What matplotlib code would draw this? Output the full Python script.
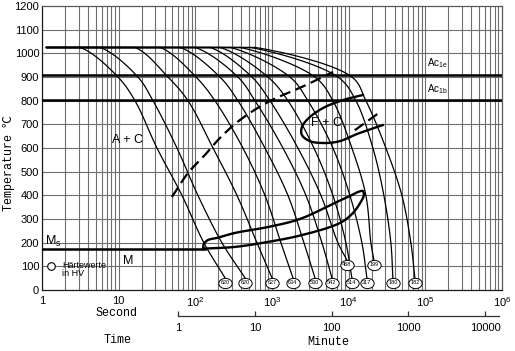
import numpy as np
import matplotlib
matplotlib.use('Agg')
import matplotlib.pyplot as plt
from matplotlib.path import Path
from matplotlib.markers import MarkerStyle
from matplotlib.transforms import Affine2D

plt.rcParams['font.family'] = ['Liberation Sans', 'DejaVu Sans']
plt.rcParams['mathtext.default'] = 'regular'
MONO = ['Liberation Mono', 'Noto Sans CJK SC']

# --- data (time in s, temperature in degC) ---
austenit_T = 1025
ac1e_T = 910
ac1b_T = 802
ms_T = 175
ms_t_end = 133

# time at which each cooling curve passes these temperatures
temp_levels = [1025, 900, 800, 600, 400, 200]
cool_times = [
    [3.13, 9.79, 16.3, 31.6, 66.9, 129],
    [5.70, 17.8, 28.0, 57.6, 108, 222],
    [16.3, 43.9, 80.1, 170, 349, 636],
    [34.6, 102, 180, 417, 808, 1306],
    [63.0, 209, 359, 808, 1612, 2606],
    [98.8, 359, 599, 1388, 2767, 4473],
    [155, 547, 939, 2176, 4341, 7233],
    [209, 884, 1612, 3518, 6223, 9195],
    [283, 1712, 2938, 6223, 10370, 14860],
    [381, 3625, 6223, 11010, 16760, 19480],
    [515, 7233, 12410, 20680, 28760, 35500],
    [599, 11010, 16760, 30550, 49400, 64700],
]
end_t = [243, 443, 997, 1873, 3625, 6039, 9474, 11010, 17280, 21310, 37700, 73000]
end_T = [52, 52, 52, 52, 52, 52, 127, 52, 52, 127, 52, 52]
hv_values = ['620', '620', '627', '634', '530', '542', '468', '514', '317', '199', '180', '182']

# bainite region (closed loop starting on Ms)
bain_t = [126, 129, 146, 191, 328, 884, 2312, 7020, 10370, 13180, 15310, 15780,
          14860, 11350, 7680, 2455, 884, 328, 133]
bain_T = [173, 194, 211, 220, 241, 266, 300, 372, 397, 414, 418, 401,
          380, 325, 283, 232, 203, 182, 175]

# carbide precipitation start (dashed)
carb_t = [49.5, 80.1, 133, 209, 381, 884, 2455, 6223]
carb_T = [393, 494, 570, 642, 718, 794, 858, 921]
carb2_t = [12000, 24000]
carb2_T = [675, 745]

# ferrite + carbide region
fc_t = [15310, 10370, 7680, 4897, 3119, 2455, 2455, 3119, 4897, 7680, 12790, 27920]
fc_T = [824, 811, 798, 773, 731, 689, 655, 629, 621, 629, 659, 697]

minute_ticks = [1, 10, 100, 1000, 10000]


# smoothing helper (centripetal Catmull-Rom in screen-like space)
KX, KY = 76.7, 0.2367

def _seg(P0, P1, P2, P3, n):
    def tj(ti, a, b):
        return ti + max(np.hypot(*(b - a)), 1e-6) ** 0.5
    t0 = 0.0
    t1 = tj(t0, P0, P1)
    t2 = tj(t1, P1, P2)
    t3 = tj(t2, P2, P3)
    t = np.linspace(t1, t2, n)[:, None]
    A1 = (t1 - t) / (t1 - t0) * P0 + (t - t0) / (t1 - t0) * P1
    A2 = (t2 - t) / (t2 - t1) * P1 + (t - t1) / (t2 - t1) * P2
    A3 = (t3 - t) / (t3 - t2) * P2 + (t - t2) / (t3 - t2) * P3
    B1 = (t2 - t) / (t2 - t0) * A1 + (t - t0) / (t2 - t0) * A2
    B2 = (t3 - t) / (t3 - t1) * A2 + (t - t1) / (t3 - t1) * A3
    return (t2 - t) / (t2 - t1) * B1 + (t - t1) / (t2 - t1) * B2


def smooth(tt, TT, lead=None, n=20):
    P = np.column_stack([np.log10(tt) * KX, np.asarray(TT, float) * KY])
    first = P[0] + lead if lead is not None else 2 * P[0] - P[1]
    Q = np.vstack([first, P, 2 * P[-1] - P[-2]])
    out = [_seg(Q[i], Q[i + 1], Q[i + 2], Q[i + 3], n) for i in range(len(Q) - 3)]
    out = np.vstack(out)
    return 10 ** (out[:, 0] / KX), out[:, 1] / KY


fig = plt.figure(figsize=(5.15, 3.51), dpi=100)
ax = fig.add_axes([42 / 515, 61 / 351, 460 / 515, 284 / 351])
ax.set_xscale('log')
ax.set_xlim(1, 1e6)
ax.set_ylim(0, 1200)

# grid
gcol = '#6e6e6e'
for k in range(6):
    for m in range(1, 10):
        ax.axvline(m * 10 ** k, color=gcol, lw=0.8, zorder=0)
for T in range(100, 1200, 100):
    ax.axhline(T, color=gcol, lw=0.8, zorder=0)

for s in ax.spines.values():
    s.set_color('0.35')
    s.set_linewidth(0.9)
ax.spines['left'].set_color('0.1')
ax.spines['bottom'].set_color('0.1')

ax.set_yticks(range(0, 1201, 100))
ax.set_xticks([1, 10, 100, 1e3, 1e4, 1e5, 1e6])
ax.set_xticklabels(['1', '10', '$10^2$', '$10^3$', '$10^4$', '$10^5$', '$10^6$'])
ax.xaxis.set_minor_locator(plt.NullLocator())
ax.tick_params(length=0, labelsize=8, colors='black')
ax.tick_params(axis='y', pad=2)
ax.tick_params(axis='x', pad=4)

# Ac lines
ax.axhline(ac1e_T, color='black', lw=1.8, zorder=3)
ax.axhline(ac1b_T, color='black', lw=1.8, zorder=3)
ax.text(1.05e5, ac1e_T + 18, 'Ac$_{1e}$', fontsize=7, ha='left', va='bottom')
ax.text(1.05e5, ac1b_T + 18, 'Ac$_{1b}$', fontsize=7, ha='left', va='bottom')

# cooling curves
for times, et, eT in zip(cool_times, end_t, end_T):
    ax.plot([1.12, times[0]], [austenit_T, austenit_T], color='black', lw=0.9, zorder=2)
    cx, cy = smooth(times + [et], temp_levels + [eT], lead=np.array([-35.0, 0.0]))
    ax.plot(cx, cy, color='black', lw=0.9, zorder=2)

# hardness circles
ell = Path.unit_circle().transformed(Affine2D().scale(1.3, 1.0))
mk = MarkerStyle(ell)
hv_y = [T - 21 for T in end_T]
ax.scatter(end_t, hv_y, s=92, marker=mk, facecolor='white', edgecolor='black',
           linewidths=0.7, zorder=5)
for x, y, lab in zip(end_t, hv_y, hv_values):
    ax.text(x, y, lab, fontsize=4, ha='center', va='center', zorder=6)

# Ms line and bainite loop
ax.plot([1, ms_t_end], [ms_T, ms_T], color='black', lw=1.8, zorder=3)
bx, by = smooth(bain_t, bain_T, n=14)
ax.plot(bx, by, color='black', lw=1.7, zorder=3)

# dashed carbide lines
dx, dy = smooth(carb_t, carb_T)
ax.plot(dx, dy, color='black', lw=1.6, dashes=(5, 2.5), zorder=3)
ax.plot(carb2_t, carb2_T, color='black', lw=1.6, dashes=(5, 2.5), zorder=3)

# F + C region
fx, fy = smooth(fc_t, fc_T, n=14)
ax.plot(fx, fy, color='black', lw=1.7, zorder=3)

# labels in the field
ax.text(13.2, 634, 'A + C', fontsize=9, ha='center', va='center')
ax.text(5200, 705, 'F + C', fontsize=9, ha='center', va='center', zorder=4)
ax.text(1.08, 192, 'M$_s$', fontsize=9, ha='left', va='baseline')
ax.text(11.4, 122, 'M', fontsize=9, ha='left', va='center')
ax.scatter([1.31], [100], s=30, facecolor='white', edgecolor='black', linewidths=0.8, zorder=5)
ax.text(1.82, 105, 'Härtewerte', fontsize=6.5, ha='left', va='center')
ax.text(1.82, 68, 'in HV', fontsize=6.5, ha='left', va='center')

# minute axis
ax2 = fig.add_axes([42 / 515, 35 / 351, 460 / 515, 0.0001])
ax2.set_xscale('log')
ax2.set_xlim(1, 1e6)
ax2.set_yticks([])
for k in ['top', 'left', 'right']:
    ax2.spines[k].set_visible(False)
ax2.spines['bottom'].set_bounds(60, 9.2e5)
ax2.spines['bottom'].set_color('0.2')
ax2.spines['bottom'].set_linewidth(0.9)
ax2.patch.set_alpha(0)
ax2.set_xticks([m * 60 for m in minute_ticks])
ax2.set_xticklabels([str(m) for m in minute_ticks])
ax2.xaxis.set_minor_locator(plt.NullLocator())
ax2.tick_params(axis='x', direction='in', length=3.5, width=0.9, color='0.2',
                labelsize=8, pad=5)

# axis titles
fig.text(117 / 515, 1 - 313 / 351, 'Second', family=MONO, fontsize=8.5, ha='center', va='center')
fig.text(118 / 515, 1 - 340 / 351, 'Time', family=MONO, fontsize=8.5, ha='center', va='center')
fig.text(328 / 515, 1 - 342 / 351, 'Minute', family=MONO, fontsize=8.5, ha='center', va='center')
fig.text(9 / 515, 1 - 163 / 351, 'Temperature ℃', family=MONO, fontsize=8.5,
         rotation=90, ha='center', va='center')

fig.savefig('out.png', dpi=100)
